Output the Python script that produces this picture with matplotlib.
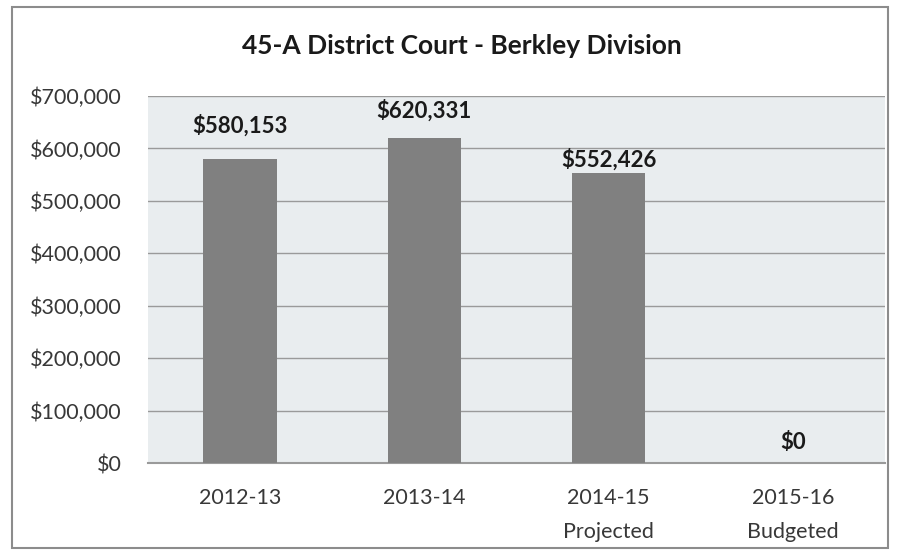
import matplotlib.pyplot as plt
from matplotlib.patches import Rectangle
from matplotlib.ticker import FuncFormatter, MultipleLocator

categories = ['2012-13', '2013-14', '2014-15\nProjected', '2015-16\nBudgeted']
values = [580153, 620331, 552426, 0]

# label distance above each bar (points), labels were hand placed in the original
label_offsets = [24, 19.5, 10, 14.5]

plt.rcParams['font.family'] = ['Lato', 'DejaVu Sans']

fig = plt.figure(figsize=(9.01, 5.55), dpi=100)
ax = fig.add_axes([148 / 901, 1 - 463 / 555, (885 - 148) / 901, (463 - 96) / 555])

# outer chart border
fig.patches.append(Rectangle((12 / 901, 7 / 555), (888 - 12) / 901, (548 - 7) / 555,
                             transform=fig.transFigure, fill=False,
                             edgecolor='#8c8c8c', linewidth=1.5))

ax.set_facecolor('#e9edef')
x = range(len(categories))
ax.bar(x, values, width=0.4, color='#808080', zorder=3)

for i, v in enumerate(values):
    ax.annotate('${:,.0f}'.format(v), (i, v), xytext=(0, label_offsets[i]),
                textcoords='offset points', ha='center', va='center',
                fontsize=16, fontweight='bold', color='#1a1a1a')

ax.set_ylim(0, 700000)
ax.set_xlim(-0.5, len(categories) - 0.5)
ax.yaxis.set_major_locator(MultipleLocator(100000))
ax.yaxis.set_major_formatter(FuncFormatter(lambda v, p: '${:,.0f}'.format(v)))
ax.grid(axis='y', color='#9a9a9a', linewidth=1, zorder=0)
ax.set_xticks(list(x))
ax.set_xticklabels(categories, linespacing=1.85)
ax.tick_params(axis='both', length=0, labelsize=15.5, colors='#383838')
ax.tick_params(axis='x', pad=18)
ax.tick_params(axis='y', pad=19)
for s in ['top', 'right', 'left']:
    ax.spines[s].set_visible(False)
ax.spines['bottom'].set_color('#9a9a9a')
ax.spines['bottom'].set_linewidth(1.5)

fig.text(462 / 901, 1 - 46 / 555, '45-A District Court - Berkley Division',
         ha='center', va='center', fontsize=19, fontweight='bold', color='#1a1a1a')

fig.savefig('out.png', dpi=100)
